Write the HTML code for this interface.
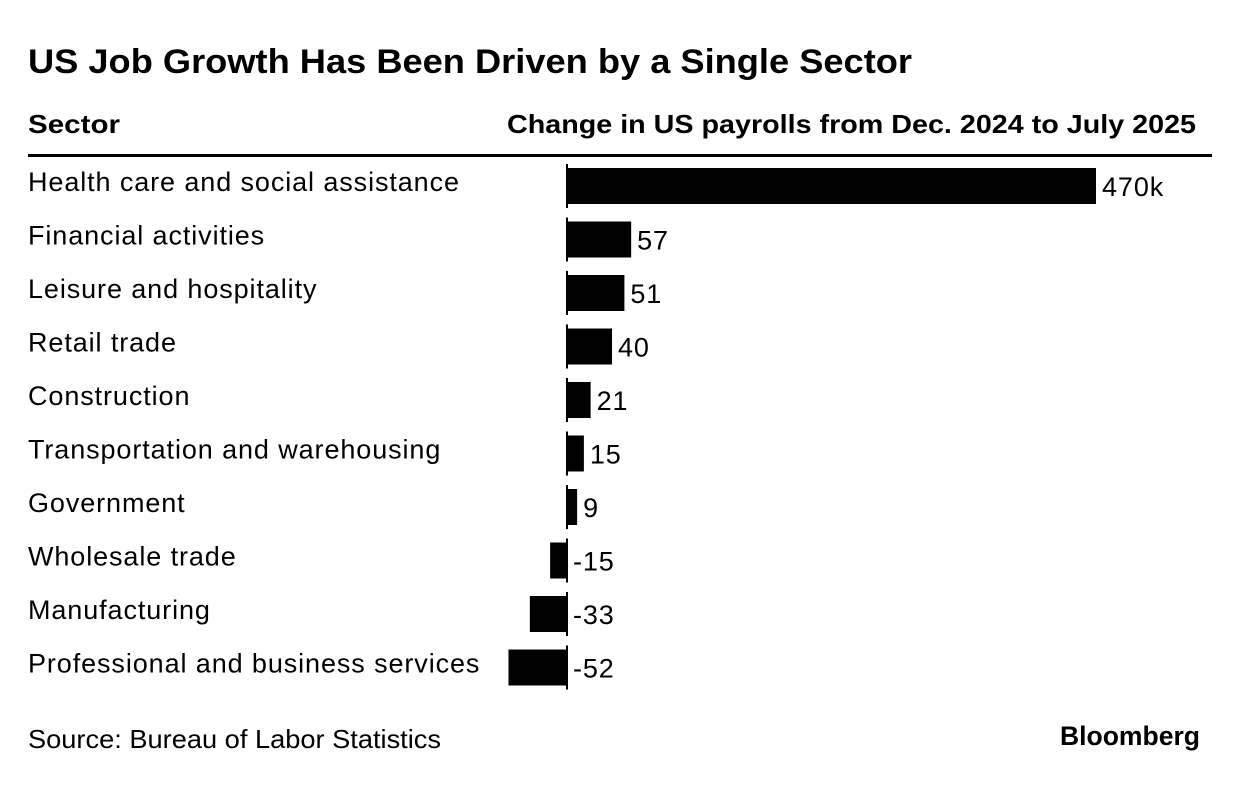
<!DOCTYPE html>
<html><head><meta charset="utf-8"><style>
body{margin:0;background:#fff;width:1240px;height:780px;overflow:hidden;font-family:"Liberation Sans",Arial,sans-serif;color:#000}
svg text{font-family:"Liberation Sans",Arial,sans-serif}
</style></head><body>
<svg id="chart" width="1240" height="780" xmlns="http://www.w3.org/2000/svg">
<text x="28" y="73" font-size="34" font-weight="bold" textLength="884" lengthAdjust="spacingAndGlyphs">US Job Growth Has Been Driven by a Single Sector</text>
<text x="28" y="133" font-size="26" font-weight="bold" textLength="92" lengthAdjust="spacingAndGlyphs">Sector</text>
<text x="507" y="133" font-size="26" font-weight="bold" textLength="689" lengthAdjust="spacingAndGlyphs">Change in US payrolls from Dec. 2024 to July 2025</text>
<rect x="28" y="154" width="1184" height="3" fill="#000"/>
<g id="rows"></g>
<text x="28" y="748" font-size="26" textLength="413" lengthAdjust="spacingAndGlyphs">Source: Bureau of Labor Statistics</text>
<text x="1060" y="745" font-size="27" font-weight="bold" textLength="140" lengthAdjust="spacingAndGlyphs">Bloomberg</text>
</svg>
<script>
const categories=["Health care and social assistance","Financial activities","Leisure and hospitality","Retail trade","Construction","Transportation and warehousing","Government","Wholesale trade","Manufacturing","Professional and business services"];
const values=[470,57,51,40,21,15,9,-15,-33,-52];
const valueLabels=["470k","57","51","40","21","15","9","-15","-33","-52"];
const NS="http://www.w3.org/2000/svg";
const x0=567, scale=529/470;
function xPos(v){return x0+v*scale;}
const g=document.getElementById('rows');
categories.forEach((c,i)=>{
  const top=168+i*53.5, h=36;
  const t=document.createElementNS(NS,'text');
  
  
  t.setAttribute('x',28);t.setAttribute('y',top+23);t.setAttribute('font-size','27');t.setAttribute('letter-spacing','0.9');
  t.textContent=c;g.appendChild(t);
  const v=values[i];
  const r=document.createElementNS(NS,'rect');
  
  
  const xa=Math.min(xPos(0),xPos(v)), w=Math.abs(xPos(v)-xPos(0));
  r.setAttribute('x',xa);r.setAttribute('y',top);r.setAttribute('width',w);r.setAttribute('height',h);r.setAttribute('fill','#000');
  g.appendChild(r);
  const l=document.createElementNS(NS,'rect');
  
  
  l.setAttribute('x',x0-1);l.setAttribute('y',top-4);l.setAttribute('width',2);l.setAttribute('height',h+8);l.setAttribute('fill','#000');
  g.appendChild(l);
  const vl=document.createElementNS(NS,'text');
  
  
  vl.setAttribute('x',(v>=0?xPos(v):x0)+6);vl.setAttribute('y',top+28);vl.setAttribute('font-size','27');vl.setAttribute('letter-spacing','0.9');
  vl.textContent=valueLabels[i];g.appendChild(vl);
});
</script>
</body></html>
